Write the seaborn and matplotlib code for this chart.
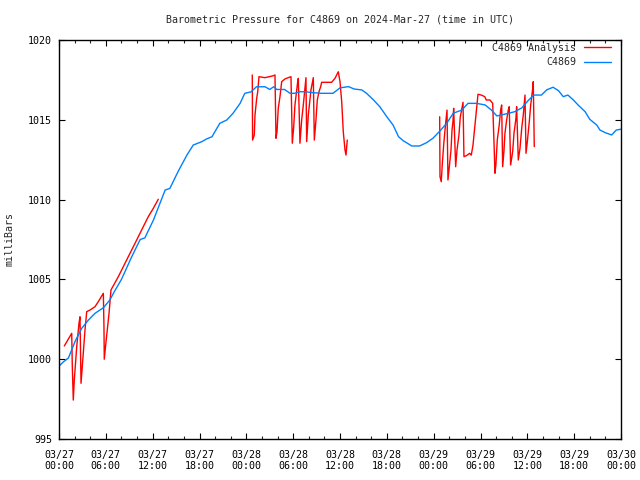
import numpy as np
import pandas as pd
import matplotlib
matplotlib.use("Agg")
import matplotlib.pyplot as plt
from matplotlib.lines import Line2D
from matplotlib.ticker import MultipleLocator
import seaborn as sns

# ---------------- data (hours since 2024-03-27 00:00 UTC) ----------------
station_hours = [0.0, 0.6, 1.2, 2.05, 2.9, 3.76, 4.6, 5.7, 6.5, 7.2, 8.0, 8.45,
                 9.2, 10.4, 11.0, 12.1, 12.8, 13.6, 14.2, 15.3, 16.4, 17.2, 18.3,
                 18.9, 19.6, 20.6, 21.5, 22.3, 23.2, 23.8, 24.6, 25.3, 26.4, 27.0,
                 27.5, 27.9, 28.9, 29.6, 30.2, 30.9, 31.5, 32.5, 33.6, 35.1, 36.0,
                 37.1, 37.8, 38.8, 39.4, 40.3, 41.1, 42.0, 42.8, 43.5, 44.1, 45.2,
                 46.2, 47.1, 47.9, 48.8, 49.7, 50.5, 51.6, 52.4, 53.5, 54.6, 55.4,
                 56.1, 57.6, 58.4, 59.3, 60.1, 60.8, 61.8, 62.5, 63.3, 64.0, 64.6,
                 65.2, 65.9, 66.5, 67.4, 68.0, 68.9, 69.3, 70.0, 70.8, 71.4, 72.0]
station_mb = [999.57, 999.85, 1000.07, 1001.1, 1001.93, 1002.45, 1002.87, 1003.23,
              1003.7, 1004.33, 1005.0, 1005.48, 1006.3, 1007.5, 1007.6, 1008.72,
              1009.6, 1010.6, 1010.7, 1011.8, 1012.8, 1013.42, 1013.63, 1013.8,
              1013.94, 1014.78, 1014.99, 1015.41, 1016.03, 1016.66, 1016.75,
              1017.07, 1017.07, 1016.9, 1017.07, 1016.9, 1016.9, 1016.66, 1016.66,
              1016.76, 1016.76, 1016.7, 1016.66, 1016.66, 1017.0, 1017.08, 1016.93,
              1016.87, 1016.66, 1016.24, 1015.82, 1015.19, 1014.67, 1013.94,
              1013.69, 1013.36, 1013.36, 1013.57, 1013.84, 1014.3, 1014.8, 1015.41,
              1015.61, 1016.03, 1016.03, 1015.93, 1015.61, 1015.24, 1015.41,
              1015.51, 1015.75, 1016.2, 1016.55, 1016.55, 1016.88, 1017.04,
              1016.82, 1016.45, 1016.55, 1016.24, 1015.93, 1015.51, 1015.03,
              1014.67, 1014.36, 1014.19, 1014.05, 1014.36, 1014.41]

analysis_seg1_hours = [0.68, 1.63, 1.70, 1.83, 1.96, 2.27, 2.56, 2.69, 2.82, 3.11,
                       3.33, 3.55, 3.97, 4.61, 5.03, 5.68, 5.76, 5.80, 5.98, 6.41,
                       6.66, 7.60, 8.67, 9.74, 10.59, 11.44, 12.08, 12.72]
analysis_seg1_mb = [1000.83, 1001.62, 999.64, 997.44, 998.70, 1000.78, 1002.25,
                    1002.66, 998.49, 1000.37, 1001.83, 1002.98, 1003.08, 1003.29,
                    1003.60, 1004.13, 1002.04, 1000.0, 1000.89, 1002.88, 1004.34,
                    1005.17, 1006.22, 1007.26, 1008.10, 1008.93, 1009.45, 1010.02]

analysis_seg2_hours = [24.76, 24.80, 25.02, 25.11, 25.33, 25.46, 25.62, 26.39, 27.45,
                       27.67, 27.80, 27.93, 28.09, 28.31, 28.53, 28.95, 29.37, 29.72,
                       29.89, 30.07, 30.23, 30.58, 30.66, 30.87, 31.09, 31.30, 31.64,
                       31.73, 31.94, 32.28, 32.58, 32.71, 32.92, 33.09, 33.31, 33.52,
                       33.65, 34.93, 35.36, 35.78, 36.00, 36.22, 36.42, 36.64, 36.77,
                       36.93]
analysis_seg2_mb = [1017.81, 1013.73, 1014.05, 1015.30, 1016.35, 1016.76, 1017.70,
                    1017.64, 1017.76, 1017.81, 1013.84, 1014.25, 1015.72, 1016.45,
                    1017.39, 1017.56, 1017.64, 1017.70, 1013.53, 1014.57, 1015.93,
                    1017.39, 1017.60, 1013.53, 1014.99, 1015.93, 1017.64, 1013.63,
                    1015.30, 1016.87, 1017.64, 1013.73, 1014.99, 1016.24, 1016.76,
                    1017.07, 1017.35, 1017.35, 1017.60, 1018.01, 1017.39, 1016.13,
                    1014.25, 1013.11, 1012.79, 1013.73]

analysis_seg3_hours = [48.77, 48.81, 48.97, 49.10, 49.28, 49.51, 49.71, 49.83, 50.03,
                       50.22, 50.35, 50.47, 50.56, 50.82, 50.99, 51.24, 51.41, 51.54,
                       51.76, 51.88, 52.18, 52.62, 52.82, 53.04, 53.25, 53.46, 53.68,
                       54.10, 54.54, 54.74, 55.21, 55.56, 55.72, 55.85, 55.97, 56.15,
                       56.40, 56.58, 56.71, 56.84, 57.00, 57.13, 57.35, 57.56, 57.68,
                       57.86, 58.12, 58.29, 58.54, 58.63, 58.84, 59.06, 59.28, 59.48,
                       59.70, 59.83, 60.00, 60.25, 60.43, 60.69, 60.76, 60.89]
analysis_seg3_mb = [1015.19, 1011.44, 1011.12, 1012.17, 1013.42, 1014.67, 1015.61,
                    1011.23, 1012.17, 1013.11, 1014.36, 1014.88, 1015.72, 1012.06,
                    1013.11, 1014.05, 1015.19, 1015.51, 1016.10, 1012.69, 1012.75,
                    1012.90, 1012.79, 1013.42, 1014.47, 1015.51, 1016.60, 1016.55,
                    1016.45, 1016.24, 1016.24, 1016.03, 1013.73, 1011.65, 1012.17,
                    1013.73, 1014.67, 1015.61, 1015.93, 1012.06, 1013.00, 1014.15,
                    1014.99, 1015.61, 1015.82, 1012.17, 1013.00, 1014.15, 1015.09,
                    1015.82, 1012.48, 1013.21, 1014.47, 1015.30, 1016.55, 1012.90,
                    1013.63, 1014.88, 1015.93, 1016.97, 1017.39, 1013.32]

tick_hours = [0, 6, 12, 18, 24, 30, 36, 42, 48, 54, 60, 66, 72]
tick_labels = ["03/27\n00:00", "03/27\n06:00", "03/27\n12:00", "03/27\n18:00",
               "03/28\n00:00", "03/28\n06:00", "03/28\n12:00", "03/28\n18:00",
               "03/29\n00:00", "03/29\n06:00", "03/29\n12:00", "03/29\n18:00",
               "03/30\n00:00"]
y_ticks = [995, 1000, 1005, 1010, 1015, 1020]

title = "Barometric Pressure for C4869 on 2024-Mar-27 (time in UTC)"
analysis_name = "C4869 Analysis"
station_name = "C4869"

# ---------------- build frames ----------------
analysis_df = pd.concat([
    pd.DataFrame({"hour": analysis_seg1_hours, "mb": analysis_seg1_mb, "seg": 1}),
    pd.DataFrame({"hour": analysis_seg2_hours, "mb": analysis_seg2_mb, "seg": 2}),
    pd.DataFrame({"hour": analysis_seg3_hours, "mb": analysis_seg3_mb, "seg": 3}),
], ignore_index=True)
station_df = pd.DataFrame({"hour": station_hours, "mb": station_mb})

# ---------------- style ----------------
sns.set_theme(style="ticks")
plt.rcParams["font.family"] = ["DejaVu Sans Mono", "DejaVu Sans"]
plt.rcParams["font.size"] = 7.2

red = "#ff0000"
blue = "#0080ff"

fig = plt.figure(figsize=(6.4, 4.8), dpi=100)
ax = fig.add_axes([59 / 640, 1 - 439 / 480, (621 - 59) / 640, (439 - 40) / 480])

sns.lineplot(data=analysis_df, x="hour", y="mb", units="seg", estimator=None,
             sort=False, color=red, linewidth=1.0, ax=ax, legend=False)
sns.lineplot(data=station_df, x="hour", y="mb", estimator=None, sort=False,
             color=blue, linewidth=1.0, ax=ax, legend=False)

ax.set_xlim(0, 72)
ax.set_ylim(995, 1020)
ax.set_xticks(tick_hours)
ax.set_xticklabels(tick_labels, linespacing=1.05)
ax.xaxis.set_minor_locator(MultipleLocator(2))
ax.set_yticks(y_ticks)
ax.set_yticklabels([str(v) for v in y_ticks])

for s in ax.spines.values():
    s.set_visible(True)
    s.set_color("black")
    s.set_linewidth(1.0)

ax.tick_params(axis="both", which="major", direction="in", length=4.5, width=0.8,
               top=True, right=True, colors="black", labelsize=7.2)
ax.tick_params(axis="x", which="major", pad=8)
ax.tick_params(axis="y", which="major", pad=5)
ax.tick_params(axis="x", which="minor", direction="in", length=2.5, width=0.8,
               top=True, bottom=True)
ax.tick_params(axis="y", which="minor", left=False, right=False)

ax.set_xlabel("")
ax.set_ylabel("milliBars", fontsize=7.2, labelpad=10)
fig.text(340 / 640, 1 - 20 / 480, title, ha="center", va="center", fontsize=7.2)

handles = [Line2D([], [], color=red, lw=1.0), Line2D([], [], color=blue, lw=1.0)]
leg = ax.legend(handles, [analysis_name, station_name], loc="upper right",
                bbox_to_anchor=(1 - 8 / 562, 1 - 1 / 399),
                frameon=False, markerfirst=False, fontsize=7.2, handlelength=2.7,
                handletextpad=0.8, borderaxespad=0.0, borderpad=0.2,
                labelspacing=0.45)

ax.grid(False)
fig.savefig("out.png", dpi=100, facecolor="white")
